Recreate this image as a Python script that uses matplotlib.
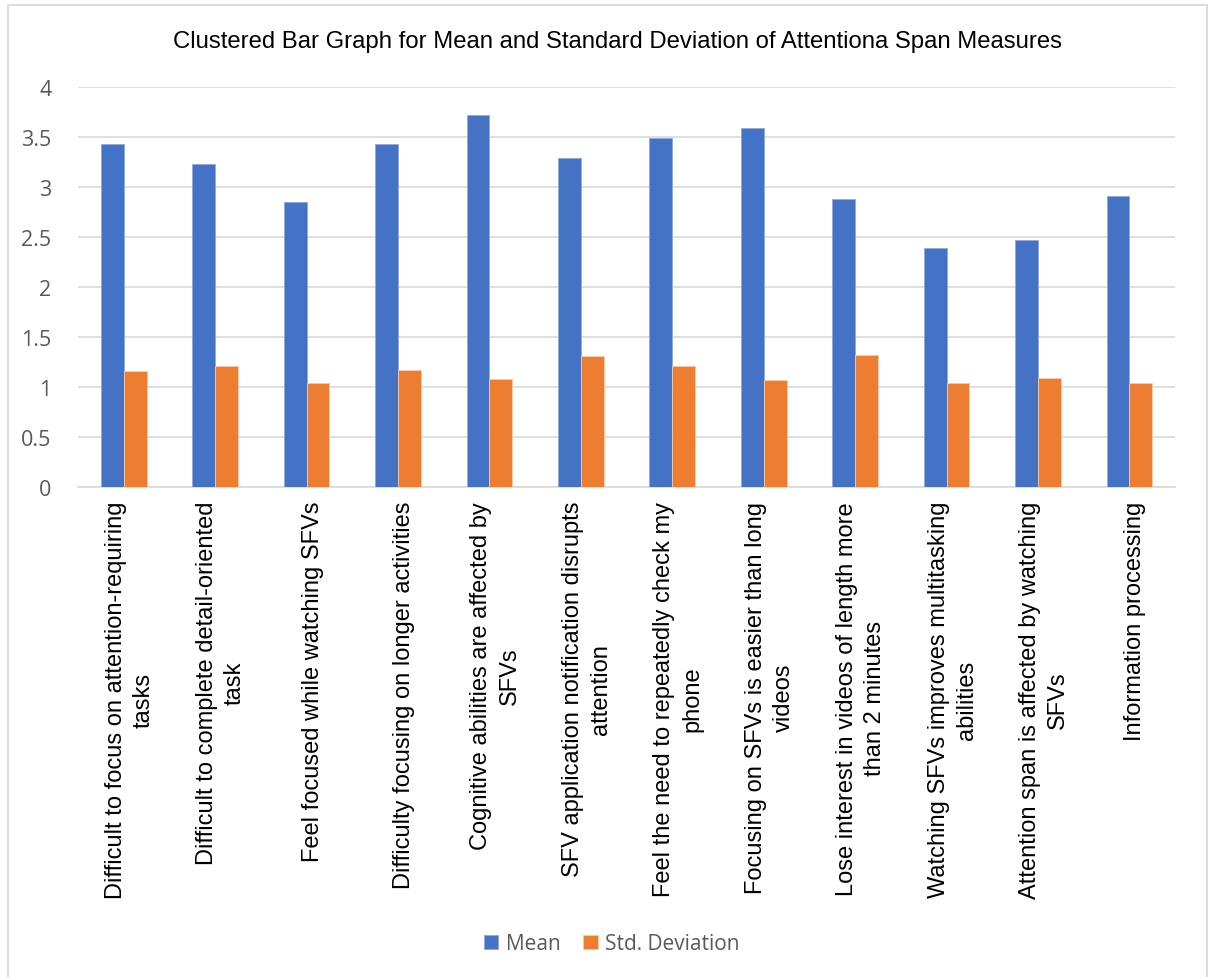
import matplotlib
matplotlib.use("Agg")
import matplotlib.pyplot as plt
import matplotlib.transforms as mtransforms
import numpy as np
from matplotlib.patches import Rectangle

categories = [
    "Difficult to focus on attention-requiring\ntasks",
    "Difficult to complete detail-oriented\ntask",
    "Feel focused while watching SFVs",
    "Difficulty focusing on longer activities",
    "Cognitive abilities are affected by\nSFVs",
    "SFV application notification disrupts\nattention",
    "Feel the need to repeatedly check my\nphone",
    "Focusing on SFVs is easier than long\nvideos",
    "Lose interest in videos of length more\nthan 2 minutes",
    "Watching SFVs improves multitasking\nabilities",
    "Attention span is affected by watching\nSFVs",
    "Information processing",
]
mean_values = [3.43, 3.23, 2.85, 3.43, 3.72, 3.29, 3.49, 3.59, 2.88, 2.39, 2.47, 2.91]
std_values = [1.16, 1.21, 1.04, 1.17, 1.08, 1.31, 1.21, 1.07, 1.32, 1.04, 1.09, 1.04]
series_names = ["Mean", "Std. Deviation"]
y_ticks = [0, 0.5, 1, 1.5, 2, 2.5, 3, 3.5, 4]
y_tick_labels = ["0", "0.5", "1", "1.5", "2", "2.5", "3", "3.5", "4"]
title = "Clustered Bar Graph for Mean and Standard Deviation of Attentiona Span Measures"

blue = "#4472C4"
orange = "#ED7D31"
grid_gray = "#D9D9D9"
text_gray = "#595959"
ui_font = ["Open Sans", "DejaVu Sans"]

plt.rcParams["font.family"] = ["Liberation Sans", "DejaVu Sans"]

fig = plt.figure(figsize=(12.09, 9.78), dpi=100)
ax = fig.add_axes([0.0645, 0.501, 0.9075, 0.409])

x = np.arange(len(categories))
w = 0.25
b1 = ax.bar(x - w / 2, mean_values, w, color=blue, edgecolor="#8FAADC", linewidth=0.6,
            label=series_names[0], zorder=3)
b2 = ax.bar(x + w / 2, std_values, w, color=orange, edgecolor="#F8CBAD", linewidth=0.6,
            label=series_names[1], zorder=3)

ax.set_xlim(-0.5, len(categories) - 0.5)
ax.set_ylim(0, 4)
ax.set_yticks(y_ticks)
ax.set_yticklabels(y_tick_labels, fontsize=15.5, color=text_gray, family=ui_font)
ax.yaxis.grid(True, color=grid_gray, linewidth=1.2, zorder=0)
ax.set_axisbelow(True)
for side in ("top", "right", "left"):
    ax.spines[side].set_visible(False)
ax.spines["bottom"].set_color(grid_gray)
ax.spines["bottom"].set_linewidth(1.2)
ax.tick_params(axis="y", length=0, pad=19)
ax.tick_params(axis="x", length=0, pad=10)

ax.set_xticks(x)
ax.set_xticklabels(categories, rotation=90, fontsize=17, color="black",
                   ha="center", va="top", multialignment="center",
                   linespacing=1.35)
# nudge category labels slightly to the right
shift = mtransforms.ScaledTranslation(6 / 100, 0, fig.dpi_scale_trans)
for lbl in ax.get_xticklabels():
    lbl.set_transform(lbl.get_transform() + shift)

fig.text(0.511, 0.957, title, ha="center", va="center", fontsize=17.2, color="black")

fig.legend(handles=[b1, b2], labels=series_names, loc="center",
           bbox_to_anchor=(0.506, 0.034), ncol=2, frameon=False,
           prop={"family": ui_font, "size": 15}, labelcolor=text_gray,
           handlelength=0.68, handleheight=0.68,
           handletextpad=0.35, columnspacing=1.1)

fig.patches.append(Rectangle((8 / 1209, -0.01), 1199 / 1209, 0.01 + 1 - 6 / 978,
                             transform=fig.transFigure,
                             fill=False, edgecolor="#D9D9D9", linewidth=1.3))

fig.savefig("out.png", dpi=100, facecolor="white")
